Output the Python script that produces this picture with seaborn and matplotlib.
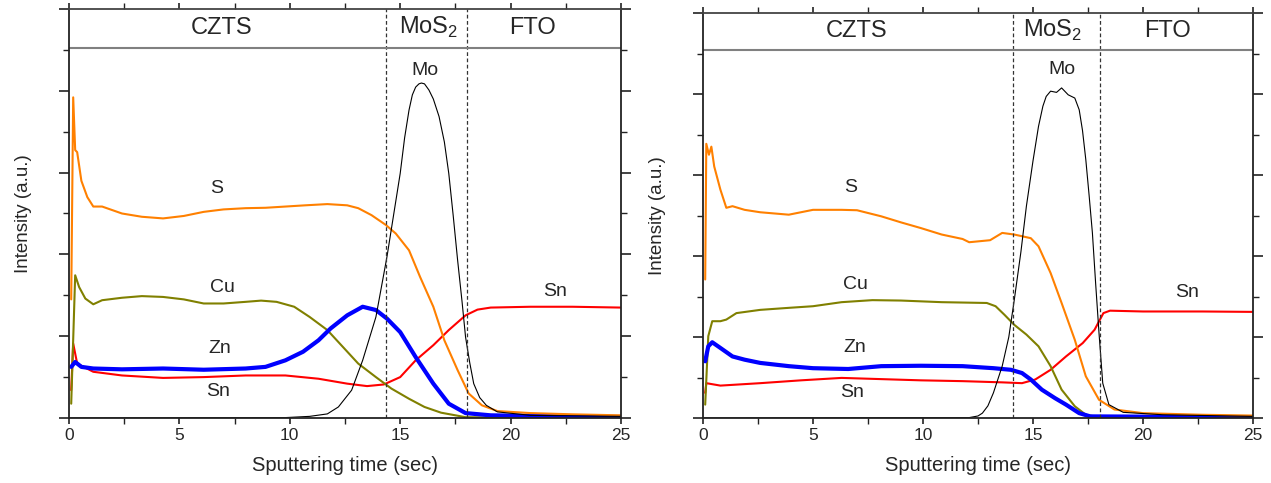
import matplotlib
matplotlib.use("Agg")
import matplotlib.pyplot as plt
from matplotlib.ticker import MultipleLocator, NullFormatter
import seaborn as sns
import pandas as pd

# ---------------- data ----------------
# Left panel
L_S_t = [0.1, 0.19, 0.28, 0.37, 0.56, 0.83, 1.1, 1.5, 2.4, 3.3, 4.26, 5.2, 6.1, 7.0, 8.0, 8.9, 9.8, 10.7,
         11.7, 12.6, 13.1, 13.7, 14.35, 14.8, 15.4, 15.9, 16.5, 17.0, 17.6, 18.1, 18.7, 19.4, 20.9, 22.8, 25.0]
L_S_v = [2.9, 7.84, 6.55, 6.5, 5.8, 5.4, 5.17, 5.17, 5.0, 4.92, 4.88, 4.94, 5.04, 5.1, 5.13, 5.14, 5.17, 5.2,
         5.23, 5.2, 5.13, 4.96, 4.72, 4.51, 4.1, 3.45, 2.72, 1.9, 1.17, 0.6, 0.31, 0.17, 0.12, 0.09, 0.065]

L_Cu_t = [0.1, 0.28, 0.46, 0.74, 1.1, 1.5, 2.4, 3.3, 4.26, 5.2, 6.1, 7.0, 8.0, 8.7, 9.4, 10.2, 10.9, 11.7,
          12.4, 13.1, 13.9, 14.6, 15.4, 16.1, 16.85, 17.96, 20.0, 25.0]
L_Cu_v = [0.35, 3.49, 3.2, 2.92, 2.78, 2.88, 2.94, 2.98, 2.96, 2.9, 2.8, 2.8, 2.84, 2.87, 2.84, 2.72, 2.47, 2.15,
          1.74, 1.33, 1.0, 0.72, 0.47, 0.27, 0.13, 0.02, 0.01, 0.01]

L_Zn_t = [0.1, 0.28, 0.56, 1.1, 2.4, 4.26, 6.1, 8.0, 8.9, 9.8, 10.6, 11.3, 11.85, 12.6, 13.3, 13.9, 14.4,
          15.0, 15.7, 16.5, 17.2, 17.96, 19.1, 25.0]
L_Zn_v = [1.25, 1.37, 1.25, 1.21, 1.19, 1.21, 1.18, 1.21, 1.25, 1.41, 1.62, 1.9, 2.19, 2.51, 2.72, 2.64, 2.43,
          2.1, 1.49, 0.84, 0.35, 0.12, 0.065, 0.025]

L_Sn_t = [0.1, 0.19, 0.37, 1.1, 2.4, 4.26, 6.1, 8.0, 9.8, 11.3, 12.6, 13.5, 14.26, 15.0, 15.7, 16.5, 17.2,
          17.96, 18.5, 19.1, 20.9, 22.8, 25.0]
L_Sn_v = [0.68, 1.82, 1.33, 1.13, 1.04, 0.98, 1.0, 1.04, 1.04, 0.96, 0.84, 0.78, 0.82, 1.0, 1.41, 1.78, 2.15,
          2.51, 2.65, 2.7, 2.72, 2.72, 2.7]

L_Mo_t = [0.0, 9.8, 10.9, 11.7, 12.2, 12.8, 13.3, 13.9, 14.4, 15.0, 15.2, 15.4, 15.55, 15.7, 15.85, 15.96,
          16.1, 16.3, 16.5, 16.76, 17.0, 17.2, 17.4, 17.6, 17.8, 17.96, 18.15, 18.33, 18.6, 18.9, 19.4, 20.9, 25.0]
L_Mo_v = [0.0, 0.01, 0.04, 0.1, 0.27, 0.68, 1.41, 2.47, 3.94, 5.98, 6.85, 7.53, 7.9, 8.09, 8.17, 8.19,
          8.17, 8.02, 7.8, 7.37, 6.75, 5.98, 4.95, 3.86, 2.85, 1.98, 1.35, 0.84, 0.5, 0.31, 0.15, 0.065, 0.04]

# Right panel
R_S_t = [0.1, 0.15, 0.27, 0.38, 0.51, 0.79, 1.06, 1.34, 1.89, 2.6, 3.9, 5.0, 6.3, 7.0, 8.1, 9.0, 9.9, 10.85,
         11.8, 12.1, 13.05, 13.6, 14.15, 14.9, 15.25, 15.8, 16.3, 16.9, 17.4, 18.0, 18.7, 20.0, 22.7, 25.0]
R_S_v = [3.42, 6.77, 6.5, 6.7, 6.21, 5.64, 5.19, 5.23, 5.14, 5.08, 5.02, 5.14, 5.14, 5.13, 4.98, 4.83, 4.69, 4.53,
         4.42, 4.34, 4.39, 4.57, 4.53, 4.44, 4.24, 3.58, 2.84, 1.93, 1.03, 0.45, 0.21, 0.12, 0.08, 0.06]

R_Cu_t = [0.1, 0.24, 0.42, 0.79, 1.06, 1.52, 2.6, 3.9, 5.0, 6.3, 7.7, 9.0, 10.85, 12.9, 13.3, 13.7, 14.15,
          14.7, 15.25, 15.8, 16.3, 16.9, 17.4, 18.0, 25.0]
R_Cu_v = [0.33, 2.02, 2.39, 2.39, 2.43, 2.59, 2.67, 2.72, 2.76, 2.86, 2.91, 2.9, 2.86, 2.84, 2.76, 2.55, 2.3,
          2.06, 1.77, 1.28, 0.7, 0.29, 0.08, 0.02, 0.01]

R_Zn_t = [0.1, 0.24, 0.42, 0.79, 1.34, 1.89, 2.6, 3.9, 5.0, 6.6, 8.1, 9.9, 11.8, 13.2, 14.0, 14.5, 14.9,
          15.4, 16.0, 16.5, 17.1, 17.6, 25.0]
R_Zn_v = [1.4, 1.77, 1.87, 1.73, 1.52, 1.44, 1.36, 1.28, 1.23, 1.21, 1.28, 1.29, 1.28, 1.23, 1.19, 1.11, 0.95,
          0.7, 0.49, 0.33, 0.12, 0.04, 0.02]

R_Sn_t = [0.1, 0.15, 0.79, 2.6, 4.45, 6.3, 8.1, 9.9, 11.8, 13.6, 14.5, 15.1, 15.8, 16.5, 17.26, 17.8, 18.2,
          18.5, 20.0, 22.7, 25.0]
R_Sn_v = [0.62, 0.86, 0.8, 0.86, 0.93, 0.99, 0.96, 0.93, 0.91, 0.88, 0.86, 0.95, 1.19, 1.52, 1.85, 2.18, 2.59,
          2.65, 2.63, 2.63, 2.62]

R_Mo_t = [0.0, 12.1, 12.5, 12.7, 12.95, 13.2, 13.6, 13.9, 14.15, 14.45, 14.7, 15.0, 15.25, 15.45, 15.6, 15.8,
          16.07, 16.3, 16.6, 16.9, 17.1, 17.25, 17.4, 17.55, 17.7, 17.85, 18.0, 18.17, 18.45, 19.1, 20.9, 25.0]
R_Mo_v = [0.0, 0.01, 0.05, 0.12, 0.3, 0.62, 1.28, 2.0, 2.92, 4.1, 5.23, 6.35, 7.2, 7.7, 7.94, 8.07,
          8.04, 8.15, 7.98, 7.9, 7.61, 7.1, 6.38, 5.5, 4.57, 3.3, 2.1, 0.86, 0.33, 0.14, 0.08, 0.04]

layers = ["CZTS", "MoS$_2$", "FTO"]
x_ticks = [0, 5, 10, 15, 20, 25]

panels = [
    dict(rect=[69 / 1271, 65 / 483, 552 / 1271, 409 / 483],
         curves=[("S", L_S_t, L_S_v), ("Cu", L_Cu_t, L_Cu_v), ("Zn", L_Zn_t, L_Zn_v),
                 ("Sn", L_Sn_t, L_Sn_v), ("Mo", L_Mo_t, L_Mo_v)],
         bounds=[14.36, 18.03], header=9.05,
         layer_x=[6.9, 16.3, 21.0],
         labels=[("S", 6.67, 5.62), ("Cu", 6.94, 3.2), ("Zn", 6.85, 1.7), ("Sn", 6.76, 0.64),
                 ("Mo", 16.1, 8.5), ("Sn", 22.0, 3.09)]),
    dict(rect=[703 / 1271, 65 / 483, 550 / 1271, 405 / 483],
         curves=[("S", R_S_t, R_S_v), ("Cu", R_Cu_t, R_Cu_v), ("Zn", R_Zn_t, R_Zn_v),
                 ("Sn", R_Sn_t, R_Sn_v), ("Mo", R_Mo_t, R_Mo_v)],
         bounds=[14.09, 18.05], header=9.09,
         layer_x=[7.0, 15.9, 21.1],
         labels=[("S", 6.73, 5.68), ("Cu", 6.95, 3.29), ("Zn", 6.88, 1.73), ("Sn", 6.79, 0.62),
                 ("Mo", 16.3, 8.6), ("Sn", 22.0, 3.09)]),
]

colors = {"S": "#FF8000", "Cu": "#808000", "Zn": "#0000FF", "Sn": "#FF0000", "Mo": "#000000"}
widths = {"S": 1.5, "Cu": 1.5, "Zn": 3.0, "Sn": 1.5, "Mo": 0.8}

# ---------------- style ----------------
sns.set_style("ticks")
plt.rcParams["font.family"] = ["Liberation Sans", "DejaVu Sans"]
plt.rcParams["mathtext.fontset"] = "custom"
plt.rcParams["mathtext.rm"] = "Liberation Sans"

fig = plt.figure(figsize=(12.71, 4.83), dpi=100)

for p in panels:
    ax = fig.add_axes(p["rect"])
    order = ["Sn", "Cu", "Zn", "S", "Mo"]
    cd = {c[0]: c for c in p["curves"]}
    for name in order:
        _, t, v = cd[name]
        df = pd.DataFrame({"t": t, "v": v})
        sns.lineplot(data=df, x="t", y="v", ax=ax, color=colors[name], lw=widths[name],
                     sort=False, estimator=None, legend=False)
    ax.set_xlim(0, 25)
    ax.set_ylim(0, 10)
    for b in p["bounds"]:
        ax.axvline(b, color="#333333", lw=0.9, ls=(0, (3, 2)))
    ax.axhline(p["header"], color="#808080", lw=1.5)
    hy = (10 + p["header"]) / 2
    for name, lx in zip(layers, p["layer_x"]):
        ax.text(lx, hy + 0.02, name, ha="center", va="center", fontsize=17)
    for name, lx, ly in p["labels"]:
        ax.text(lx, ly, name, ha="center", va="center", fontsize=14)

    ax.set_xticks(x_ticks)
    ax.xaxis.set_minor_locator(MultipleLocator(2.5))
    ax.yaxis.set_major_locator(MultipleLocator(2))
    ax.yaxis.set_minor_locator(MultipleLocator(1))
    ax.yaxis.set_major_formatter(NullFormatter())
    ax.tick_params(axis="both", which="major", length=7, width=1.2, direction="out",
                   labelsize=12.5, color="#222222")
    ax.tick_params(axis="both", which="minor", length=4, width=1.0, direction="out", color="#222222")
    ax.tick_params(axis="x", top=True, which="both")
    ax.tick_params(axis="x", which="major", top=True, length=4)
    ax.tick_params(axis="y", which="both", right=True, direction="out")
    for s in ax.spines.values():
        s.set_visible(True)
        s.set_linewidth(1.3)
        s.set_color("#222222")
    ax.spines["top"].set_color("#444444")
    ax.set_xlabel("Sputtering time (sec)", fontsize=14.5, labelpad=9)
    ax.set_ylabel("Intensity (a.u.)", fontsize=13.5, labelpad=16)
    ax.grid(False)

fig.savefig("out.png", dpi=100)
